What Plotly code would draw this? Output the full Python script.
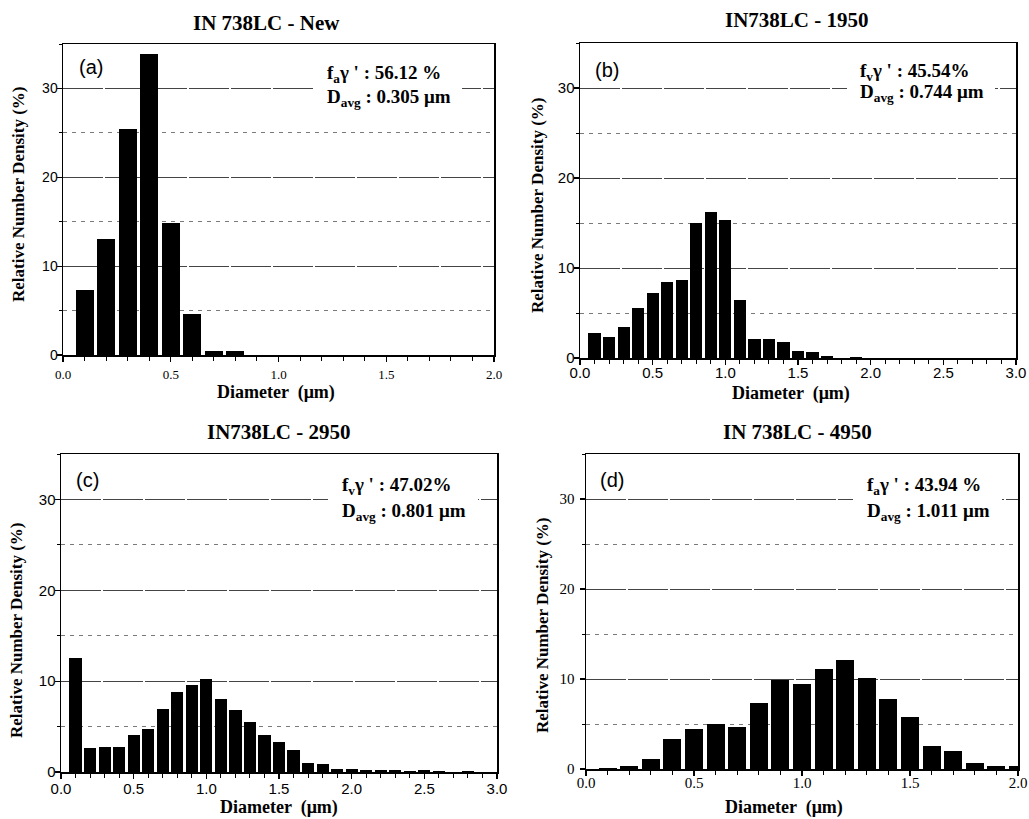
import plotly.graph_objects as go

W, H = 1029, 819

# ---------------- data ----------------
diam_a = [0.1, 0.2, 0.3, 0.4, 0.5, 0.6, 0.7, 0.8]
dens_a = [7.3, 13.1, 25.4, 33.9, 14.9, 4.6, 0.4, 0.4]

diam_b = [0.1, 0.2, 0.3, 0.4, 0.5, 0.6, 0.7, 0.8, 0.9, 1.0,
          1.1, 1.2, 1.3, 1.4, 1.5, 1.6, 1.7, 1.8, 1.9]
dens_b = [2.8, 2.3, 3.4, 5.6, 7.2, 8.5, 8.7, 15.0, 16.2, 15.3,
          6.5, 2.15, 2.1, 1.75, 0.8, 0.7, 0.2, 0.05, 0.15]

diam_c = [0.1, 0.2, 0.3, 0.4, 0.5, 0.6, 0.7, 0.8, 0.9, 1.0,
          1.1, 1.2, 1.3, 1.4, 1.5, 1.6, 1.7, 1.8, 1.9, 2.0,
          2.1, 2.2, 2.3, 2.4, 2.5, 2.6, 2.7, 2.8, 2.9]
dens_c = [12.6, 2.6, 2.8, 2.7, 4.1, 4.7, 6.9, 8.8, 9.6, 10.2,
          8.0, 6.8, 5.5, 4.1, 3.3, 2.4, 1.0, 0.9, 0.33, 0.37,
          0.18, 0.18, 0.18, 0.07, 0.22, 0.07, 0.04, 0.1, 0.03]

diam_d = [0.1, 0.2, 0.3, 0.4, 0.5, 0.6, 0.7, 0.8, 0.9, 1.0,
          1.1, 1.2, 1.3, 1.4, 1.5, 1.6, 1.7, 1.8, 1.9, 2.0]
dens_d = [0.15, 0.33, 1.1, 3.3, 4.4, 5.0, 4.7, 7.3, 9.85, 9.5,
          11.15, 12.15, 10.15, 7.75, 5.8, 2.6, 2.05, 0.65, 0.37, 0.37]

titles = ["IN 738LC - New", "IN738LC - 1950", "IN738LC - 2950", "IN 738LC - 4950"]
labels = ["(a)", "(b)", "(c)", "(d)"]
frac_sub = ["a", "v", "v", "a"]
frac_val = ["56.12 %", "45.54%", "47.02%", "43.94 %"]
davg_val = ["0.305 μm", "0.744 μm", "0.801 μm", "1.011 μm"]
xmax = [2.0, 3.0, 3.0, 2.0]
x_title = "Diameter  (μm)"
y_title = "Relative Number Density (%)"

# ---------------- layout geometry (pixels) ----------------
boxes = [(63, 494, 44, 355), (580, 1016, 43, 358), (61, 497, 454, 772), (586, 1018, 454, 769)]
title_pos = [(266, 23), (797, 20), (279, 432), (797, 432)]
label_pos = [(77, 67), (593, 70), (74, 480), (598, 480)]
stat_pos = [(325, 74, 98), (858, 72, 93), (340, 486, 512), (865, 486, 512)]
mask_pos = [(313, 462, 60, 112), (847, 995, 58, 108), (328, 478, 471, 526), (853, 1002, 471, 526)]
xt_pos = [(276, 392), (791, 393), (279, 807), (784, 807)]
yt_pos = [(18, 195), (537, 206), (16, 631), (542, 626)]
xtick_font = [("serif", 13), ("sans", 15), ("sans", 15), ("serif", 15)]
ytick_font = [("sans", 14), ("sans", 15), ("sans", 15), ("serif", 15)]
xtick_shift = [2, -5, -3, -6]
ytick_shift = [-4, -4, -4, 2]


def fx(p):
    return p / W


def fy(p):
    return 1 - p / H


SERIF = "Liberation Serif, Times New Roman, serif"
SANS = "Liberation Sans, Arial, sans-serif"


def tfont(spec):
    fam, size = spec
    return dict(family=SERIF if fam == "serif" else SANS, size=size, color="black")


fig = go.Figure()
data = [(diam_a, dens_a), (diam_b, dens_b), (diam_c, dens_c), (diam_d, dens_d)]
layout = {}
annotations = []
shapes = []
for i, (xs, ys) in enumerate(data):
    n = "" if i == 0 else str(i + 1)
    fig.add_trace(go.Bar(x=xs, y=ys, width=0.084, marker=dict(color="black", line=dict(width=0)),
                         xaxis="x" + n, yaxis="y" + n, showlegend=False))
    x0, x1, y0, y1 = boxes[i]
    layout["xaxis" + n] = dict(
        domain=[fx(x0), fx(x1)], anchor="y" + n, range=[0, xmax[i]], automargin=False,
        tick0=0, dtick=0.5, tickformat=".1f", ticks="outside", ticklen=5, tickwidth=1.2,
        tickcolor="black", tickfont=tfont(xtick_font[i]), ticklabelstandoff=xtick_shift[i],
        minor=dict(dtick=0.1, ticks="outside", ticklen=4, tickwidth=1, tickcolor="black", showgrid=False),
        showgrid=False, zeroline=False, showline=True, linecolor="black", linewidth=1.5, mirror=True,
        fixedrange=True,
    )
    layout["yaxis" + n] = dict(
        domain=[fy(y1), fy(y0)], anchor="x" + n, range=[0, 35], automargin=False,
        tick0=0, dtick=10, ticks="outside", ticklen=5, tickwidth=1.2, tickcolor="black",
        tickfont=tfont(ytick_font[i]), ticklabelstandoff=ytick_shift[i],
        showgrid=True, gridcolor="#444444", gridwidth=1, griddash="40px,2px",
        minor=dict(dtick=5, ticks="outside", ticklen=3, tickwidth=1, tickcolor="black",
                   showgrid=True, gridcolor="#7a7a7a", gridwidth=1, griddash="4px,5px"),
        zeroline=False, showline=True, linecolor="black", linewidth=1.5, mirror=True,
        fixedrange=True,
    )
    mx0, mx1, my0, my1 = mask_pos[i]
    shapes.append(dict(type="rect", xref="paper", yref="paper", x0=fx(mx0), x1=fx(mx1),
                       y0=fy(my1), y1=fy(my0), fillcolor="white", line=dict(width=0), layer="above"))
    tx, ty = title_pos[i]
    annotations.append(dict(x=fx(tx), y=fy(ty), xref="paper", yref="paper", text="<b>%s</b>" % titles[i],
                            showarrow=False, xanchor="center", yanchor="middle",
                            font=dict(family=SERIF, size=21, color="black")))
    lx, ly = label_pos[i]
    annotations.append(dict(x=fx(lx), y=fy(ly), xref="paper", yref="paper", text=labels[i],
                            showarrow=False, xanchor="left", yanchor="middle",
                            font=dict(family=SANS, size=20, color="black")))
    sx, sy1, sy2 = stat_pos[i]
    annotations.append(dict(x=fx(sx), y=fy(sy1), xref="paper", yref="paper",
                            text="<b>f<sub>%s</sub>γ ' : %s</b>" % (frac_sub[i], frac_val[i]),
                            showarrow=False, xanchor="left", yanchor="middle", align="left",
                            font=dict(family=SERIF, size=19, color="black")))
    annotations.append(dict(x=fx(sx), y=fy(sy2), xref="paper", yref="paper",
                            text="<b>D<sub>avg</sub> : %s</b>" % davg_val[i],
                            showarrow=False, xanchor="left", yanchor="middle", align="left",
                            font=dict(family=SERIF, size=19, color="black")))
    ax, ay = xt_pos[i]
    annotations.append(dict(x=fx(ax), y=fy(ay), xref="paper", yref="paper", text="<b>%s</b>" % x_title,
                            showarrow=False, xanchor="center", yanchor="middle",
                            font=dict(family=SERIF, size=18, color="black")))
    bx, by = yt_pos[i]
    annotations.append(dict(x=fx(bx), y=fy(by), xref="paper", yref="paper", text="<b>%s</b>" % y_title,
                            showarrow=False, xanchor="center", yanchor="middle", textangle=-90,
                            font=dict(family=SERIF, size=17, color="black")))

fig.update_layout(
    width=W, height=H, margin=dict(l=0, r=0, t=0, b=0, autoexpand=False),
    paper_bgcolor="white", plot_bgcolor="white", bargap=0,
    annotations=annotations, shapes=shapes, **layout,
)

fig.write_html(
    "out.html",
    config={"displayModeBar": False, "staticPlot": True},
    post_script="document.body.style.margin='0px';document.body.style.overflow='hidden';",
)
